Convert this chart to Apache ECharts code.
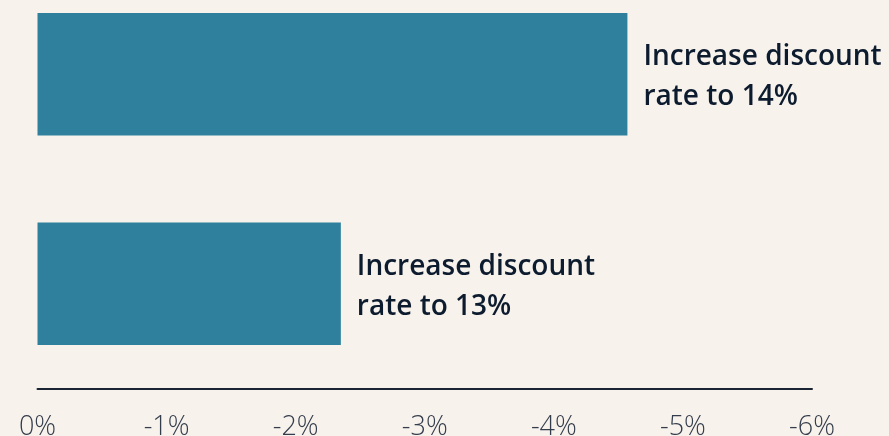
<!DOCTYPE html>
<html>
<head>
<meta charset="utf-8">
<script src="https://cdn.jsdelivr.net/npm/echarts@6/dist/echarts.min.js"></script>
<style>
  html, body { margin: 0; padding: 0; background: #f7f2ec; }
  #chart { width: 889px; height: 436px; }
</style>
</head>
<body>
<div id="chart"></div>
<script>
  // bottom to top
  const scenarios = ['Increase discount\nrate to 13%', 'Increase discount\nrate to 14%'];
  const changes = [-2.35, -4.57];
  const tickValues = [0, -1, -2, -3, -4, -5, -6];

  let myChart = echarts.init(document.getElementById('chart'));
  myChart.setOption({
    backgroundColor: '#f7f2ec',
    animation: false,
    grid: {
      left: 37.5,
      right: 77,
      top: -30.5,
      bottom: 47.6,
      outerBoundsMode: 'none'
    },
    xAxis: {
      type: 'value',
      min: -6,
      max: 0,
      interval: 1,
      inverse: true,
      splitLine: {show: false},
      axisTick: {show: false},
      axisLine: {
        show: true,
        lineStyle: {color: '#1a2433', width: 2}
      },
      axisLabel: {
        margin: 25,
        fontFamily: 'Open Sans',
        fontWeight: 300,
        fontSize: 27,
        color: '#343d4c',
        formatter: v => tickValues.includes(v) ? v + '%' : ''
      }
    },
    yAxis: {
      type: 'category',
      data: scenarios,
      axisLine: {show: false},
      axisTick: {show: false},
      axisLabel: {show: false}
    },
    series: [{
      type: 'bar',
      data: changes,
      barCategoryGap: '41.5%',
      itemStyle: {color: '#2e809c'},
      label: {
        show: true,
        position: 'right',
        distance: 16,
        offset: [0, 3],
        formatter: p => scenarios[p.dataIndex],
        fontFamily: 'Open Sans',
        fontWeight: 600,
        fontSize: 28,
        lineHeight: 40,
        color: '#0d1b2e'
      }
    }]
  });
</script>
</body>
</html>
